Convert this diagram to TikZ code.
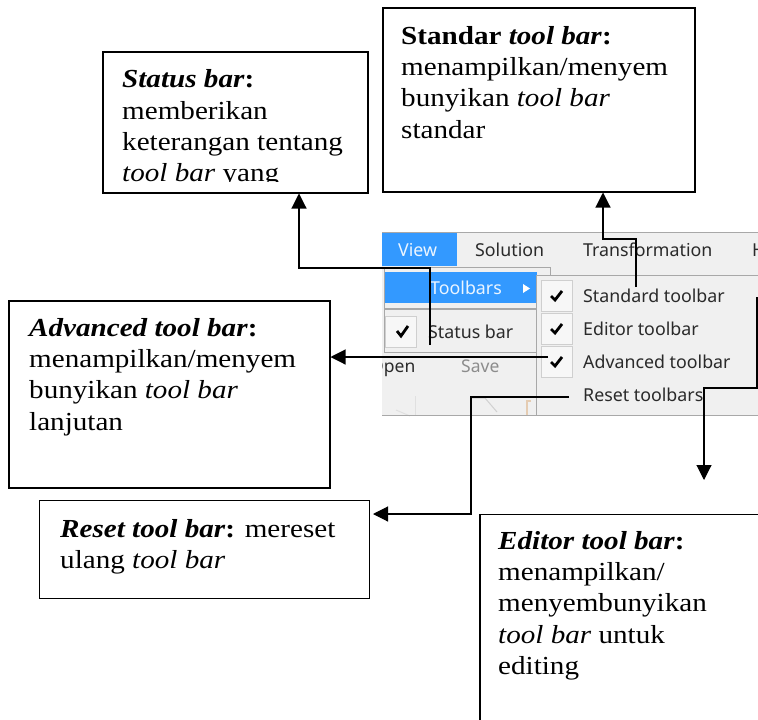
\documentclass[tikz,border=0pt]{standalone}
\usepackage{fontspec}
\setmainfont[FakeStretch=1.12]{Liberation Serif}
\newfontfamily\uifont{Noto Sans}
\usetikzlibrary{arrows.meta}
\definecolor{panelbg}{HTML}{F0F0F0}
\definecolor{menublue}{HTML}{3399FF}
\definecolor{menuline}{HTML}{A8A8A8}
\definecolor{uitext}{HTML}{2A2A2A}
\tikzset{
  x=1pt,y=-1pt,
  notebox/.style={draw=black,line width=1.5pt,fill=white,rectangle,inner sep=0pt,anchor=north west},
  notetext/.style={anchor=north west,inner sep=0pt,align=left,font=\fontsize{26pt}{31.3pt}\selectfont},
  link/.style={draw=black,line width=1.1pt},
  arrowlink/.style={link,-{Triangle[length=15pt,width=15pt]}},
  uilabel/.style={anchor=base west,inner sep=0pt,text=uitext,font=\uifont\fontsize{17.8pt}{20pt}\selectfont},
  uibold/.style={uilabel,font=\uifont\bfseries\fontsize{17.5pt}{20pt}\selectfont},
  tickbox/.style={draw=menuline!55,line width=1pt,fill=black!3,rectangle,inner sep=0pt,anchor=north west,minimum width=31pt,minimum height=31pt},
  tick/.style={draw=black,line width=2.8pt}
}
\begin{document}
\begin{tikzpicture}
\useasboundingbox (0,0) rectangle (758,720);
% screenshot
\begin{scope}
\clip (382,232) rectangle (758,416);
\fill[panelbg] (382,232) rectangle (758,416);
\draw[menuline,line width=1pt] (382,232) -- (758,232);
\fill[menublue] (382,233) rectangle (457,266);
\node[uilabel,text=white!90!menublue] (viewlbl) at (398,256) {View};
\node[uilabel] (sollbl) at (475,256) {Solution};
\node[uilabel] (trlbl) at (583,256) {Transformation};
\node[uilabel] (hlbl) at (752,256) {H};
% first menu
\draw[menuline,line width=1pt] (384,352) -- (384,267) -- (550,267) -- (550,352) -- cycle;
\fill[menublue] (385,272) rectangle (537,303);
\draw[menuline,line width=1.2pt] (385,309) -- (536,309);
\node[uilabel,text=white!90!menublue] (tblbl) at (430,294) {Toolbars};
\fill[white] (523,284) -- (530,288.5) -- (523,293) -- cycle;
\node[tickbox] (cb0) at (385,316) {};
\draw[tick] (397,331) -- (401,336) -- (408,326);
\node[uilabel] (stlbl) at (428,338) {Status bar};
\node[uibold] (openlbl) at (370,372) {Open};
\node[uibold,text=black!45] (savelbl) at (461,372) {Save};
% faint toolbar icons
\draw[black!12,line width=1pt] (415,416) -- (415,396);
\draw[black!12,line width=1pt] (396,410) -- (410,416);
\draw[black!18,line width=1pt] (471,416) -- (471,398) -- (485,398) -- (497,412);
\draw[brown!40,line width=1.2pt] (527,416) -- (527,401) -- (531,401);
% submenu
\fill[panelbg] (536,275) rectangle (758,416);
\draw[menuline,line width=1pt] (536,415) -- (536,275) -- (758,275);
\draw[menuline,line width=1pt] (382,415.5) -- (758,415.5);
\node[tickbox] (cb1) at (541,280) {};
\node[tickbox] (cb2) at (541,313) {};
\node[tickbox] (cb3) at (541,346) {};
\draw[tick] (551,296) -- (555,300) -- (562,291);
\draw[tick] (551,329) -- (555,333) -- (562,324);
\draw[tick] (551,362) -- (555,366) -- (562,357);
\node[uilabel] (l1) at (583,302) {Standard toolbar};
\node[uilabel] (l2) at (583,335) {Editor toolbar};
\node[uilabel] (l3) at (583,368) {Advanced toolbar};
\node[uilabel] (l4) at (583,401) {Reset toolbars};
\end{scope}
% boxes
\node[notebox,minimum width=265pt,minimum height=141pt] (status) at (102,51) {};
\node[notebox,minimum width=312pt,minimum height=184pt] (std) at (382,7) {};
\node[notebox,minimum width=321pt,minimum height=187pt] (adv) at (8,300) {};
\node[notebox,minimum width=330pt,minimum height=98pt,line width=1.4pt] (reset) at (38.5,500) {};
\node[notebox,minimum width=279pt,minimum height=212pt] (edit) at (479,513.5) {};
% texts
\begin{scope}
\clip (102,51) rectangle (367,181);
\node[notetext] (statustxt) at (122,69.5) {\textbf{\textit{Status bar}:}\\memberikan\\keterangan tentang\\\textit{tool bar} yang};
\end{scope}
\node[notetext] (stdtxt) at (401,26) {\textbf{Standar \textit{tool bar}:}\\menampilkan/menyem\\bunyikan \textit{tool bar}\\standar};
\node[notetext] (advtxt) at (29,318) {\textbf{\textit{Advanced tool bar}:}\\menampilkan/menyem\\bunyikan \textit{tool bar}\\lanjutan};
\node[notetext] (resettxt) at (60,519) {\textbf{\textit{Reset tool bar}:} mereset\\ulang \textit{tool bar}};
\node[notetext] (edittxt) at (498,531) {\textbf{\textit{Editor tool bar}:}\\menampilkan/\\menyembunyikan\\\textit{tool bar} untuk\\editing};
% connectors
\coordinate (a1) at (430,345); \coordinate (a2) at (299,268);
\draw[arrowlink] (a1) |- (a2) -- (a2 |- status.south);
\coordinate (b1) at (636,287); \coordinate (b2) at (603,239);
\draw[arrowlink] (b1) |- (b2) -- (b2 |- std.south);
\coordinate (c1) at (548,357);
\draw[arrowlink] (c1) -- (c1 -| adv.east);
\coordinate (d1) at (569,397); \coordinate (d2) at (471,514); \coordinate (d3) at (373,514);
\draw[arrowlink] (d1) -| (d2) -- (d3);
\coordinate (e1) at (757,297); \coordinate (e2) at (704,388); \coordinate (e3) at (704,480);
\draw[arrowlink] (e1) |- (e2) -- (e3);
\end{tikzpicture}
\end{document}
